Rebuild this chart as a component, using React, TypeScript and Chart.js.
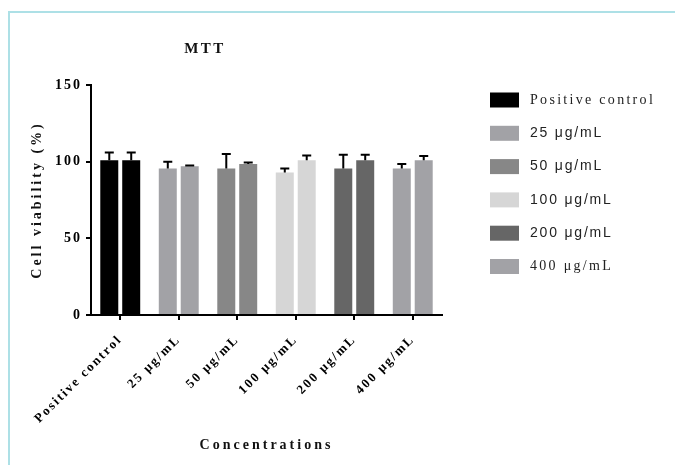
import { useEffect, useRef } from "react";
import { Chart, registerables } from "chart.js";

Chart.register(...registerables);

const categories = ["Positive control", "25 μg/mL", "50 μg/mL", "100 μg/mL", "200 μg/mL", "400 μg/mL"];
const rep1 = [101, 95.5, 95.5, 93, 95.5, 95.5];
const rep1Err = [5, 4.5, 9.5, 2.5, 9, 3];
const rep2 = [101, 97, 98.5, 101, 101, 101];
const rep2Err = [5, 0.5, 1, 3, 3.5, 2.7];
const yTicks = [0, 50, 100, 150];

const barColors = ["#000000", "#a2a2a6", "#878787", "#d6d6d6", "#666666", "#a2a2a6"];
const legendSerif = [true, false, false, false, false, true];

const SERIF = "'Liberation Serif', 'Times New Roman', serif";
const SANS = "'Liberation Sans', Arial, sans-serif";

const spacingPlugin = {
  id: "spacing",
  beforeLayout(chart: any) {
    chart.ctx.letterSpacing = "2px";
  },
  beforeDraw(chart: any) {
    chart.ctx.letterSpacing = "2px";
  },
};

const errorPlugin = {
  id: "errors",
  afterDatasetsDraw(chart: any) {
    const ctx = chart.ctx;
    const y = chart.scales.y;
    const errs = [rep1Err, rep2Err];
    const vals = [rep1, rep2];
    ctx.save();
    ctx.strokeStyle = "#000";
    ctx.lineWidth = 2;
    for (let d = 0; d < 2; d++) {
      const meta = chart.getDatasetMeta(d);
      meta.data.forEach((bar: any, i: number) => {
        const top = y.getPixelForValue(vals[d][i] + errs[d][i]);
        const base = y.getPixelForValue(vals[d][i]);
        ctx.beginPath();
        ctx.moveTo(bar.x, base);
        ctx.lineTo(bar.x, top);
        ctx.moveTo(bar.x - 4.5, top);
        ctx.lineTo(bar.x + 4.5, top);
        ctx.stroke();
      });
    }
    ctx.restore();
  },
};

const decorPlugin = {
  id: "decor",
  afterDraw(chart: any) {
    const ctx = chart.ctx;
    const area = chart.chartArea;
    ctx.save();
    ctx.fillStyle = "#111";
    ctx.textBaseline = "middle";
    ctx.textAlign = "center";
    ctx.letterSpacing = "2.5px";
    ctx.font = `bold 15px ${SERIF}`;
    ctx.fillText("MTT", 205, 49);
    ctx.font = `bold 14px ${SERIF}`;
    ctx.letterSpacing = "3px";
    ctx.fillText("Concentrations", (area.left + area.right) / 2, 445);
    ctx.save();
    ctx.translate(37, 200);
    ctx.rotate(-Math.PI / 2);
    ctx.fillText("Cell viability (%)", 0, 0);
    ctx.restore();
    ctx.textAlign = "left";
    categories.forEach((c, i) => {
      const cy = 100 + i * 33.3;
      ctx.fillStyle = barColors[i];
      ctx.fillRect(490, cy - 7.5, 29, 15);
      ctx.fillStyle = "#222";
      if (legendSerif[i]) {
        ctx.font = `14px ${SERIF}`;
        ctx.letterSpacing = "2.3px";
      } else {
        ctx.font = `14px ${SANS}`;
        ctx.letterSpacing = "1.8px";
      }
      ctx.fillText(c, 530, cy);
    });
    ctx.restore();
  },
};

export default function App() {
  const ref = useRef<HTMLCanvasElement>(null);
  useEffect(() => {
    if (!ref.current) return;
    const chart = new Chart(ref.current, {
      type: "bar",
      data: {
        labels: categories,
        datasets: [
          { label: "A", data: rep1, backgroundColor: barColors, borderWidth: 0, barPercentage: 0.82, categoryPercentage: 0.75 },
          { label: "B", data: rep2, backgroundColor: barColors, borderWidth: 0, barPercentage: 0.82, categoryPercentage: 0.75 },
        ],
      },
      options: {
        responsive: false,
        animation: false,
        layout: { padding: { top: 85, right: 233, left: 0, bottom: 0 } },
        plugins: {
          legend: { display: false },
          title: { display: false },
          tooltip: { enabled: false },
        },
        scales: {
          x: {
            afterFit: (s: any) => { s.height = 150; },
            grid: { display: true, drawOnChartArea: false, drawTicks: true, tickLength: 5, offset: false, color: "#000", lineWidth: 2 },
            border: { display: true, color: "#000", width: 2 },
            ticks: {
              minRotation: 45,
              maxRotation: 45,
              autoSkip: false,
              padding: 12,
              color: "#000",
              font: { family: SERIF, size: 13, weight: "bold" },
            },
          },
          y: {
            min: 0,
            max: 150,
            afterFit: (s: any) => { s.width = 91; },
            afterBuildTicks: (s: any) => { s.ticks = yTicks.map((v) => ({ value: v })); },
            grid: { display: true, drawOnChartArea: false, drawTicks: true, tickLength: 5, color: "#000", lineWidth: 2 },
            border: { display: true, color: "#000", width: 2 },
            ticks: {
              padding: 4,
              color: "#000",
              font: { family: SERIF, size: 14, weight: "bold" },
            },
          },
        },
      },
      plugins: [spacingPlugin, errorPlugin, decorPlugin],
    });
    return () => chart.destroy();
  }, []);

  return (
    <div style={{ position: "fixed", left: 0, top: 0, width: 675, height: 465, background: "#fff" }}>
      <canvas ref={ref} width={675} height={465} style={{ position: "absolute", left: 0, top: 0 }} />
      <div
        style={{
          position: "absolute",
          left: 8,
          top: 11,
          right: 0,
          bottom: 0,
          borderTop: "2px solid #ade0e6",
          borderLeft: "2px solid #ade0e6",
          pointerEvents: "none",
        }}
      />
    </div>
  );
}
